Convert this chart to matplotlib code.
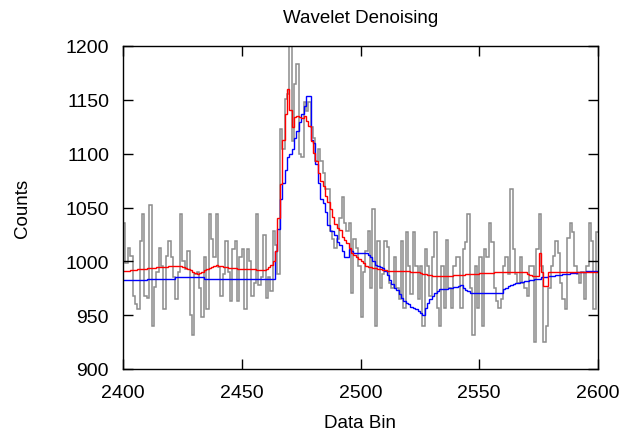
import numpy as np
import matplotlib
matplotlib.use("Agg")
import matplotlib.pyplot as plt

plt.rcParams['font.family'] = ['Liberation Sans', 'DejaVu Sans']

# Bin edges for the 200 data bins (2400 .. 2600)
bin_start = 2400
bin_count = 200

# Raw (noisy) counts per bin
raw_counts = [
    1036, 998, 1012, 1005, 968, 960, 956, 1019, 1044, 968,
    966, 1052, 940, 976, 990, 1012, 996, 956, 1005, 1019,
    1004, 985, 965, 990, 1044, 1000, 993, 1010, 950, 932,
    988, 990, 975, 948, 1004, 956, 1044, 1021, 1004, 1044,
    995, 968, 988, 1019, 990, 963, 1011, 1019, 963, 1004,
    1011, 956, 1011, 1000, 968, 980, 1044, 978, 985, 1024,
    966, 985, 972, 1028, 1015, 988, 1123, 1104, 1151, 1155,
    1205, 1112, 1165, 1183, 1100, 1097, 1148, 1140, 1148, 1125,
    1115, 1093, 1104, 1093, 1082, 1067, 1067, 1028, 1021, 1012,
    1021, 1040, 1060, 1036, 1028, 1036, 971, 1021, 1012, 996,
    948, 990, 1010, 1028, 975, 1049, 940, 1019, 975, 988,
    1019, 1013, 980, 975, 1004, 975, 965, 1019, 957, 1027,
    996, 970, 1027, 996, 965, 996, 940, 1011, 996, 968,
    1004, 1027, 957, 940, 996, 957, 1020, 975, 957, 996,
    1004, 1004, 957, 1011, 1018, 1044, 975, 932, 996, 957,
    1004, 940, 1011, 1004, 1036, 1018, 975, 963, 957, 965,
    996, 1004, 988, 1067, 1011, 988, 980, 1004, 980, 975,
    968, 996, 996, 925, 1011, 1044, 996, 925, 940, 975,
    996, 1005, 1019, 1008, 980, 965, 956, 1022, 1036, 1027,
    996, 988, 980, 990, 965, 996, 1036, 1019, 956, 1027,
]

# Denoised (red)
red_counts = [
    991, 991, 991, 992, 992, 992, 993, 993, 993, 993,
    994, 994, 994, 994, 995, 995, 995, 995, 995, 996,
    996, 996, 996, 996, 996, 995, 994, 993, 992, 990,
    989, 988, 989, 990, 992, 993, 994, 995, 996, 997,
    996, 996, 995, 995, 994, 994, 994, 994, 993, 993,
    993, 993, 993, 993, 993, 993, 992, 992, 992, 992,
    993, 995, 997, 1000, 1010, 1040, 1072, 1113, 1137, 1160,
    1141, 1125, 1134, 1135, 1134, 1133, 1135, 1130, 1126, 1112,
    1101, 1093, 1082, 1075, 1070, 1061, 1055, 1049, 1041, 1035,
    1031, 1029, 1023, 1020, 1017, 1012, 1008, 1006, 1004, 1002,
    1000, 998, 996, 995, 995, 994, 994, 993, 993, 992,
    992, 991, 991, 991, 991, 991, 991, 991, 991, 991,
    991, 990, 990, 990, 990, 989, 988, 988, 987, 987,
    986, 986, 986, 986, 986, 986, 986, 986, 986, 987,
    987, 987, 987, 987, 988, 988, 988, 988, 988, 988,
    989, 989, 989, 989, 989, 989, 990, 990, 990, 990,
    990, 990, 990, 990, 990, 990, 990, 990, 990, 990,
    988, 987, 986, 986, 986, 1008, 990, 977, 977, 990,
    990, 990, 990, 990, 990, 990, 990, 990, 990, 990,
    990, 990, 990, 990, 990, 990, 990, 990, 990, 990,
]

# Denoised (blue)
blue_counts = [
    983, 983, 983, 983, 983, 983, 983, 983, 983, 983,
    984, 984, 984, 984, 984, 984, 984, 984, 984, 984,
    984, 984, 985, 985, 985, 985, 985, 985, 985, 985,
    985, 985, 985, 985, 984, 984, 984, 984, 984, 984,
    984, 984, 984, 984, 984, 984, 984, 984, 984, 984,
    984, 984, 984, 984, 984, 984, 984, 984, 984, 984,
    984, 984, 984, 984, 1010, 1030, 1058, 1073, 1085, 1097,
    1100, 1104, 1115, 1121, 1129, 1137, 1144, 1154, 1154, 1113,
    1110, 1090, 1073, 1058, 1054, 1046, 1034, 1028, 1028, 1024,
    1018, 1015, 1010, 1004, 1004, 1011, 1010, 1008, 1008, 1008,
    1008, 1008, 1008, 1006, 1004, 1000, 997, 996, 995, 994,
    991, 987, 983, 979, 975, 973, 970, 966, 963, 961,
    960, 958, 957, 956, 954, 952, 950, 957, 961, 965,
    968, 971, 972, 974, 974, 974, 974, 975, 975, 976,
    976, 977, 978, 975, 973, 972, 971, 971, 971, 971,
    971, 971, 971, 971, 971, 971, 971, 971, 971, 971,
    974, 975, 977, 978, 979, 980, 980, 981, 981, 982,
    982, 983, 983, 984, 984, 984, 985, 985, 985, 986,
    986, 986, 987, 987, 987, 988, 988, 988, 989, 989,
    989, 990, 990, 990, 990, 991, 991, 991, 991, 991,
]

xticks = [2400, 2450, 2500, 2550, 2600]
yticks = [900, 950, 1000, 1050, 1100, 1150, 1200]

edges = np.arange(bin_start, bin_start + bin_count + 1)

fig = plt.figure(figsize=(6.26, 4.35), dpi=100)
ax = fig.add_axes([123/626, 1-370/435, (598-123)/626, (370-47)/435])

ax.stairs(raw_counts, edges, color='#8c8c8c', lw=1.1, baseline=None)
ax.stairs(blue_counts, edges, color='#0000ff', lw=1.0, baseline=None)
ax.stairs(red_counts, edges, color='#ff0000', lw=1.0, baseline=None)

ax.set_xlim(2400, 2600)
ax.set_ylim(900, 1200)
ax.set_xticks(xticks)
ax.set_yticks(yticks)
ax.tick_params(direction='in', length=7, width=1, top=True, right=True,
               labelsize=14)
ax.tick_params(axis='x', pad=11)
ax.tick_params(axis='y', pad=10)
for s in ax.spines.values():
    s.set_linewidth(1.0)

ax.set_title('Wavelet Denoising', fontsize=13.5, pad=17)
ax.set_xlabel('Data Bin', fontsize=13.5, labelpad=9)
ax.set_ylabel('Counts', fontsize=13.5, labelpad=25)

fig.savefig('out.png', dpi=100)
